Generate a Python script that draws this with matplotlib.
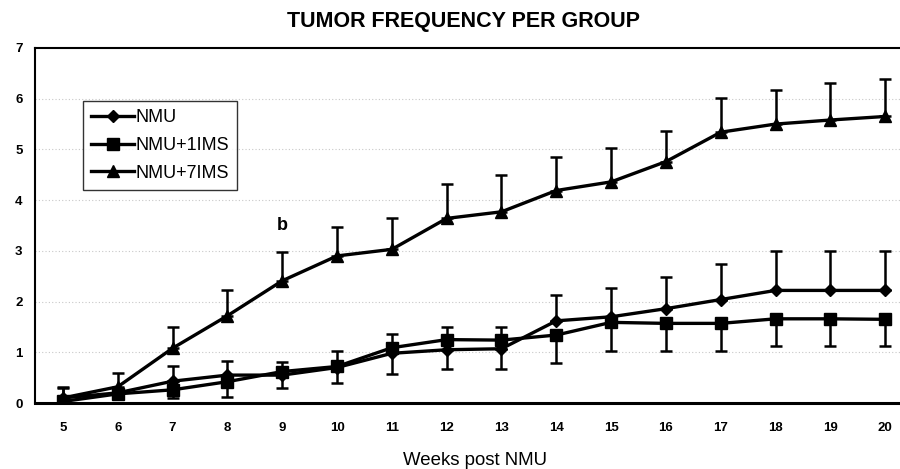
import matplotlib
matplotlib.use("Agg")
import matplotlib.pyplot as plt
from matplotlib.lines import Line2D
import numpy as np

weeks = [5, 6, 7, 8, 9, 10, 11, 12, 13, 14, 15, 16, 17, 18, 19, 20]

nmu = [0.10, 0.20, 0.43, 0.55, 0.55, 0.70, 0.98, 1.05, 1.07, 1.62, 1.70, 1.86, 2.04, 2.22, 2.22, 2.22]
nmu_err = [0.20, 0.10, 0.29, 0.27, 0.25, 0.32, 0.39, 0.45, 0.43, 0.51, 0.57, 0.63, 0.70, 0.78, 0.78, 0.78]

ims1 = [0.03, 0.18, 0.26, 0.42, 0.62, 0.72, 1.09, 1.25, 1.24, 1.34, 1.59, 1.57, 1.57, 1.66, 1.66, 1.65]
ims1_err = [0.03, 0.08, 0.16, 0.30, 0.33, 0.33, 0.51, 0.57, 0.57, 0.55, 0.56, 0.54, 0.54, 0.54, 0.54, 0.53]

ims7 = [0.10, 0.32, 1.08, 1.72, 2.41, 2.90, 3.03, 3.64, 3.77, 4.19, 4.36, 4.76, 5.34, 5.50, 5.58, 5.65]
ims7_err = [0.21, 0.28, 0.41, 0.50, 0.57, 0.58, 0.61, 0.67, 0.72, 0.67, 0.67, 0.61, 0.67, 0.68, 0.73, 0.73]

labels = ["NMU", "NMU+1IMS", "NMU+7IMS"]
yticks = [0, 1, 2, 3, 4, 5, 6, 7]

plt.rcParams['font.family'] = ['Liberation Sans', 'DejaVu Sans']

fig = plt.figure(figsize=(9, 4.69), dpi=100)
ax = fig.add_axes([35/900, (469-403)/469, 865/900, (403-48)/469])

lw = 2.4
cap = 4
ekw = dict(elinewidth=1.8, capthick=1.8)
zeros = np.zeros(len(weeks))

ax.errorbar(weeks, ims7, yerr=[zeros, ims7_err], color='black', lw=lw, marker='^',
            ms=8.5, capsize=cap, zorder=3, **ekw)
ax.errorbar(weeks, nmu, yerr=[zeros, nmu_err], color='black', lw=lw, marker='D',
            ms=6.5, capsize=cap, zorder=3, **ekw)
ax.errorbar(weeks, ims1, yerr=[ims1_err, zeros], color='black', lw=lw, marker='s',
            ms=8, capsize=cap, zorder=3, **ekw)

ax.set_xlim(4.49, 20.27)
ax.set_ylim(0, 7)
ax.set_xticks(weeks)
ax.set_xticklabels([str(w) for w in weeks], fontsize=9.5, fontweight='bold')
ax.set_yticks(yticks)
ax.set_yticklabels([str(v) for v in yticks], fontsize=9.5, fontweight='bold')
ax.tick_params(length=0)
ax.tick_params(axis='x', pad=14)
ax.tick_params(axis='y', pad=9)

for v in yticks[1:-1]:
    ax.axhline(v, color='#c8c8c8', lw=0.8, ls=(0, (1, 2)), zorder=1)

ax.spines['right'].set_visible(False)
ax.spines['top'].set_linewidth(1.5)
ax.spines['left'].set_linewidth(1.5)
ax.spines['bottom'].set_linewidth(2.2)

ax.text(9, 3.5, "b", fontsize=13, fontweight='bold', ha='center', va='center')

fig.text(463/900, 1-22/469, "TUMOR FREQUENCY PER GROUP", fontsize=15.5,
         fontweight='bold', ha='center', va='center')
fig.text(475/900, 1-460/469, "Weeks post NMU", fontsize=13.4,
         ha='center', va='center')

handles = [
    Line2D([], [], color='black', lw=lw, marker='D', ms=6.5),
    Line2D([], [], color='black', lw=lw, marker='s', ms=8),
    Line2D([], [], color='black', lw=lw, marker='^', ms=8.5),
]
leg = ax.legend(handles, labels, loc='upper left',
                bbox_to_anchor=(83/900, 1-101/469), bbox_transform=fig.transFigure,
                fontsize=13, frameon=True, fancybox=False, handlelength=2.4,
                handletextpad=0.05, borderpad=0.45, labelspacing=0.6,
                borderaxespad=0)
leg.get_frame().set_edgecolor('black')
leg.get_frame().set_linewidth(1.0)

fig.savefig("out.png", dpi=100)
